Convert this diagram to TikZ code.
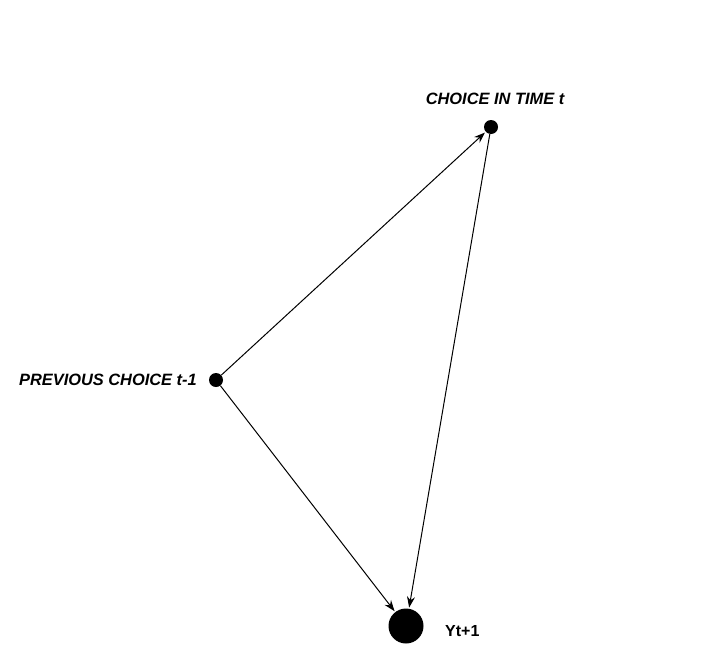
\documentclass[tikz,border=0pt]{standalone}
\usepackage{fontspec}
\setmainfont{Liberation Sans}
\usetikzlibrary{arrows.meta,positioning}

\tikzset{
	dot/.style = {circle, fill=black, inner sep=0pt, minimum size=14pt},
	bigdot/.style = {circle, fill=black, inner sep=0pt, minimum size=35pt},
	lab/.style = {font=\fontsize{16.4}{19}\selectfont\bfseries\itshape, inner sep=0pt},
	link/.style = {line width=1pt, -{Stealth[length=11pt, width=8pt]}, shorten >=1pt}
}

\begin{document}
\begin{tikzpicture}[x=1pt, y=-1pt]
	\useasboundingbox (0,0) rectangle (704,664);
	% the three states
	\node[dot] (choice) at (491,127) {};
	\node[dot] (prev) at (216,380) {};
	\node[bigdot] (ynext) at (406,626) {};
	% their labels
	\node[lab, anchor=center] (choicelab) at (495,99) {CHOICE IN TIME t};
	\node[lab, anchor=east] (prevlab) at (197,380) {PREVIOUS CHOICE t-1};
	\node[lab, font=\fontsize{16}{19}\selectfont\bfseries, anchor=west] (ylab) at (445,631) {Yt+1};
	% links
	\draw[link] (prev) -- (choice);
	\draw[link] (prev) -- (ynext);
	\draw[link] (choice) -- (ynext);
\end{tikzpicture}
\end{document}
